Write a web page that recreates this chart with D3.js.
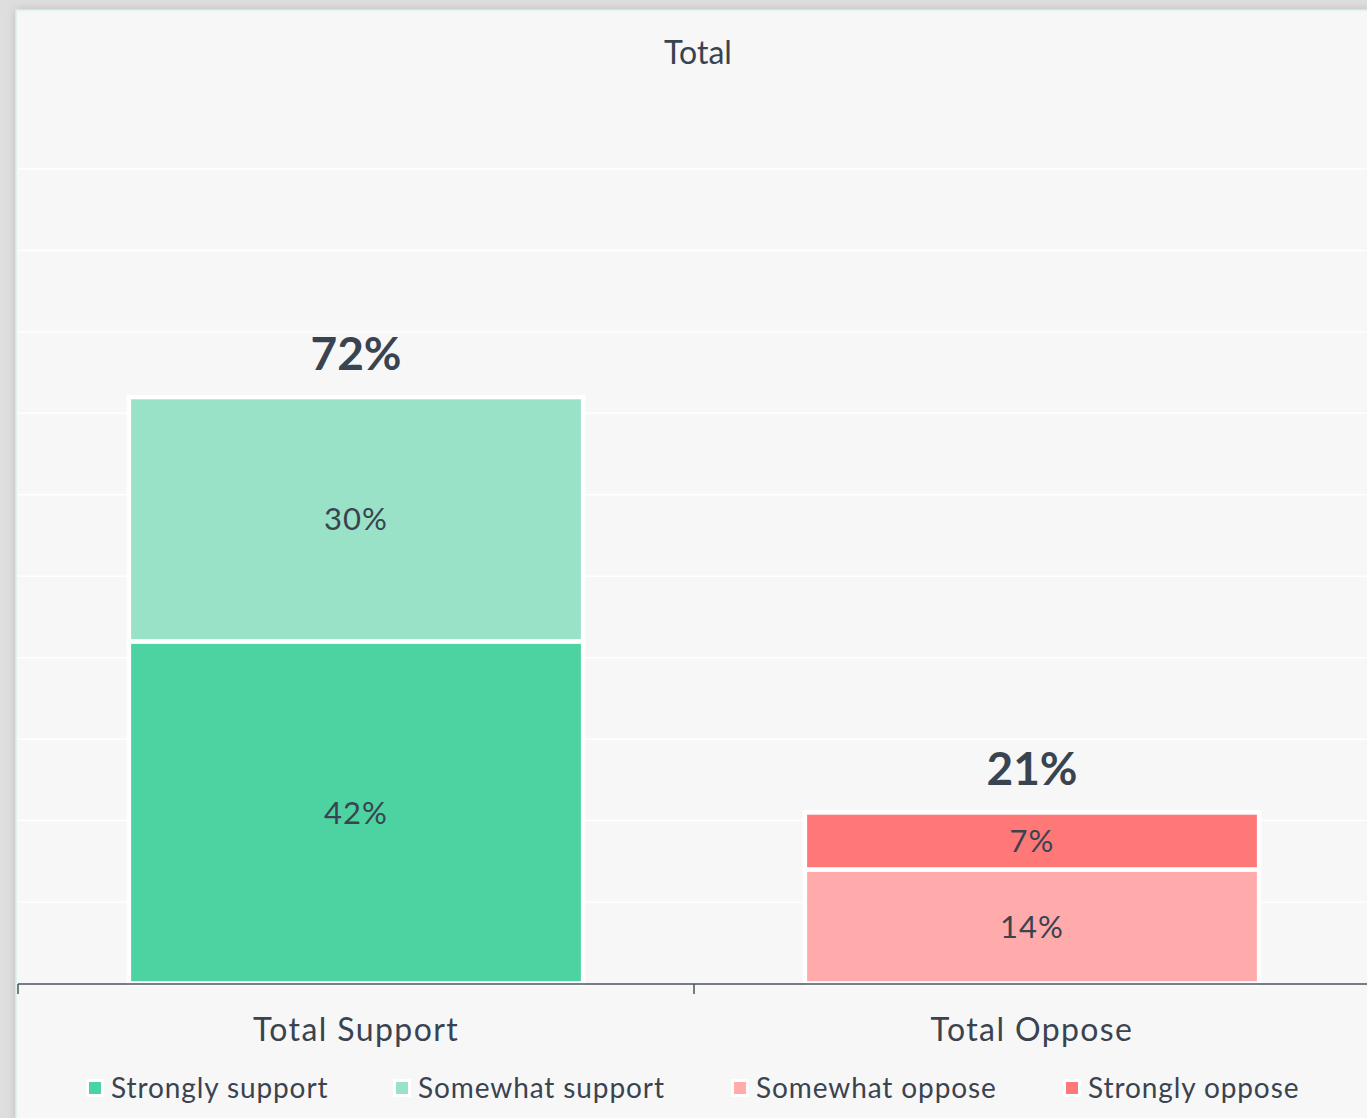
<!DOCTYPE html>
<html>
<head>
<meta charset="utf-8">
<script src="https://cdn.jsdelivr.net/npm/d3@7"></script>
<style>
  body { margin: 0; background: #dedede; }
  svg text { font-family: Lato, "Open Sans", sans-serif; fill: #3a4350; }
</style>
</head>
<body>
<div id="chart"></div>
<script>
// data
var categories = ["Total Support", "Total Oppose"];
var seriesNames = ["Strongly support", "Somewhat support", "Somewhat oppose", "Strongly oppose"];
var seriesColors = ["#4dd3a1", "#9ae2c7", "#ffabab", "#ff7878"];
// stack order bottom -> top for each bar
var supportValues = [42, 30];   // Strongly support, Somewhat support
var opposeValues = [14, 7];     // Somewhat oppose, Strongly oppose
var totals = [72, 21];
var yTicks = [0, 10, 20, 30, 40, 50, 60, 70, 80, 90, 100];

var W = 1367, H = 1118;
var margin = {top: 169, right: 0, bottom: 134, left: 14};

var svg = d3.select("#chart").append("svg")
    .attr("width", W)
    .attr("height", H);

var defs = svg.append("defs");
var f = defs.append("filter").attr("id", "shadow").attr("x", "-5%").attr("y", "-5%").attr("width", "110%").attr("height", "110%");
f.append("feDropShadow").attr("dx", 0).attr("dy", 0).attr("stdDeviation", 4).attr("flood-color", "#bbbbbb");

// panel
svg.append("rect")
    .attr("x", margin.left + 2).attr("y", 10)
    .attr("width", W).attr("height", H)
    .attr("fill", "#f7f7f7")
    .attr("stroke", "#d8f1e8")
    .attr("stroke-width", 1.5)
    .attr("filter", "url(#shadow)");

var x = d3.scaleBand()
    .domain(categories)
    .range([margin.left + 4, W + 3])
    .paddingInner(0)
    .paddingOuter(0);

var y = d3.scaleLinear()
    .domain([0, 100])
    .range([H - margin.bottom - 0.5, margin.top]);

// gridlines
svg.append("g")
  .selectAll("line")
  .data(yTicks.slice(1))
  .enter().append("line")
    .attr("x1", margin.left + 4)
    .attr("x2", W)
    .attr("y1", function(d) { return y(d); })
    .attr("y2", function(d) { return y(d); })
    .attr("stroke", "#ffffff")
    .attr("stroke-width", 1.5);

// title
svg.append("text")
    .attr("x", 698)
    .attr("y", 64)
    .attr("text-anchor", "middle")
    .style("font-size", "32px")
    .text("Total");

// stacked bars
var bars = [
  {cat: categories[0], values: supportValues, colors: [seriesColors[0], seriesColors[1]], total: totals[0]},
  {cat: categories[1], values: opposeValues, colors: [seriesColors[2], seriesColors[3]], total: totals[1]}
];

var barW = x.bandwidth() * 0.672;

bars.forEach(function(b) {
  var cx = x(b.cat) + x.bandwidth() / 2;
  var base = 0;
  b.values.forEach(function(v, i) {
    var y0 = y(base), y1 = y(base + v);
    svg.append("rect")
      .attr("x", cx - barW / 2)
      .attr("y", y1)
      .attr("width", barW)
      .attr("height", y0 - y1)
      .attr("fill", b.colors[i])
      .attr("stroke", "#ffffff")
      .attr("stroke-width", 4.5);
    svg.append("text")
      .attr("x", cx)
      .attr("y", (y0 + y1) / 2)
      .attr("dy", "0.36em")
      .attr("text-anchor", "middle")
      .style("font-size", "31px")
      .style("letter-spacing", "1px")
      .text(v + "%");
    base += v;
  });
  svg.append("text")
    .attr("x", cx)
    .attr("y", y(b.total) - 27)
    .attr("text-anchor", "middle")
    .style("font-size", "46px")
    .style("font-weight", "bold")
    .text(b.total + "%");
});

// x axis
var xAxis = svg.append("g")
    .attr("transform", "translate(0," + (H - margin.bottom) + ")")
    .call(d3.axisBottom(x).tickSize(0).tickPadding(34));
xAxis.select(".domain").remove();
xAxis.selectAll("text")
    .style("font-size", "32px")
    .style("letter-spacing", "1.4px")
    .attr("fill", "#3a4350");

svg.append("line")
    .attr("x1", margin.left + 4).attr("x2", W)
    .attr("y1", H - margin.bottom).attr("y2", H - margin.bottom)
    .attr("stroke", "#4a5360").attr("stroke-width", 1.5);

// tick marks at band edges
svg.append("g").selectAll("line")
  .data(categories)
  .enter().append("line")
    .attr("x1", function(d) { return x(d); })
    .attr("x2", function(d) { return x(d); })
    .attr("y1", H - margin.bottom)
    .attr("y2", H - margin.bottom + 10)
    .attr("stroke", "#4a5360").attr("stroke-width", 1.5);

// legend
var legendX = [89, 396, 734, 1066];
var legend = svg.append("g").selectAll("g")
  .data(seriesNames)
  .enter().append("g")
    .attr("transform", function(d, i) { return "translate(" + legendX[i] + ",1088)"; });
legend.append("rect")
    .attr("x", -3).attr("y", -9)
    .attr("width", 18).attr("height", 18)
    .attr("fill", "#ffffff");
legend.append("rect")
    .attr("x", 0).attr("y", -6)
    .attr("width", 12).attr("height", 12)
    .attr("fill", function(d, i) { return seriesColors[i]; });
legend.append("text")
    .attr("x", 22)
    .attr("y", 0)
    .attr("dy", "0.36em")
    .style("font-size", "28px")
    .style("letter-spacing", "0.9px")
    .text(function(d) { return d; });
</script>
</body>
</html>
